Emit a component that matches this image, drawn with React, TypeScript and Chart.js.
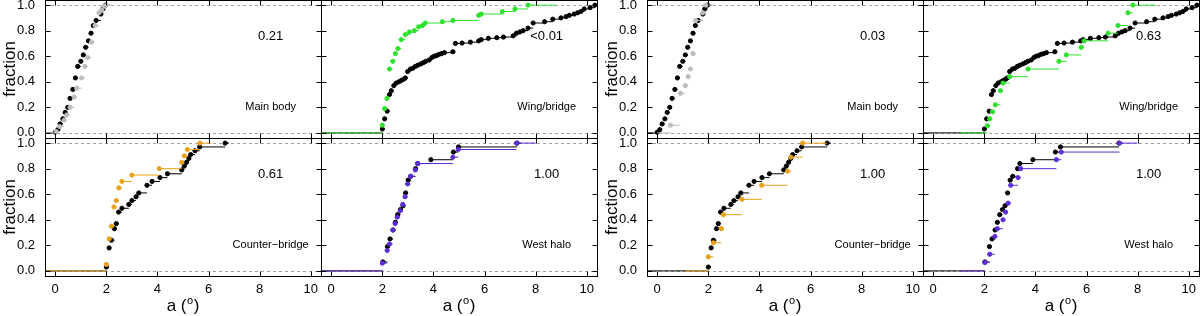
import React, { useEffect, useRef } from "react";
import { Chart, registerables } from "chart.js";

Chart.register(...registerables);

const FONT = "'Liberation Sans', Arial, Helvetica, sans-serif";

const xTickValues = [0, 2, 4, 6, 8, 10];
const yTickValues = [0, 0.2, 0.4, 0.6, 0.8, 1.0];

const regionNames = ["Main body", "Wing/bridge", "Counter\u2212bridge", "West halo"];
const pValuesLeft = ["0.21", "<0.01", "0.61", "1.00"];
const pValuesRight = ["0.03", "0.63", "1.00", "1.00"];

// ---- Main body ----
const mainBodyX = [0.0, 0.1, 0.19, 0.3, 0.39, 0.49, 0.58, 0.69, 0.79, 0.88, 1.0, 1.1, 1.19, 1.3, 1.4, 1.49, 1.6, 1.79, 1.86, 1.97];
const mainBodyY = [0.005, 0.025, 0.07, 0.11, 0.16, 0.2, 0.27, 0.34, 0.43, 0.52, 0.56, 0.61, 0.67, 0.72, 0.78, 0.84, 0.88, 0.93, 0.97, 1.0];
const mainBodyGrayLeftX = [0.04, 0.17, 0.35, 0.45, 0.58, 0.74, 0.84, 1.03, 1.16, 1.27, 1.42, 1.56, 1.71, 1.81, 1.91, 2.0];
const mainBodyGrayLeftY = [0.01, 0.05, 0.1, 0.14, 0.2, 0.28, 0.35, 0.43, 0.52, 0.59, 0.71, 0.84, 0.94, 0.96, 0.99, 1.0];
const mainBodyGrayRightX = [0.52, 0.91, 1.1, 1.21, 1.3, 1.4, 1.5, 1.78, 1.9];
const mainBodyGrayRightY = [0.06, 0.31, 0.37, 0.44, 0.5, 0.62, 0.88, 0.94, 1.0];

// ---- Wing/bridge ----
const wingX = [2.0, 2.09, 2.19, 2.28, 2.35, 2.45, 2.54, 2.65, 2.74, 2.83, 2.9, 2.99, 3.1, 3.19, 3.29, 3.39, 3.51, 3.61, 3.7, 3.83, 3.94, 4.03, 4.12, 4.22, 4.32, 4.43, 4.76, 4.86, 5.12, 5.45, 5.77, 5.87, 6.15, 6.48, 6.74, 7.12, 7.25, 7.38, 7.51, 7.7, 7.9, 8.35, 8.67, 8.99, 9.19, 9.32, 9.51, 9.64, 9.77, 9.9, 10.13, 10.32];
const wingY = [0.03, 0.11, 0.17, 0.3, 0.33, 0.37, 0.39, 0.4, 0.41, 0.42, 0.43, 0.48, 0.5, 0.505, 0.52, 0.53, 0.54, 0.55, 0.56, 0.57, 0.59, 0.6, 0.605, 0.615, 0.62, 0.628, 0.635, 0.7, 0.703, 0.71, 0.72, 0.73, 0.74, 0.745, 0.75, 0.76, 0.78, 0.79, 0.8, 0.82, 0.86, 0.87, 0.89, 0.9, 0.91, 0.92, 0.93, 0.94, 0.95, 0.97, 0.98, 1.0];
const wingGreenLeftX = [2.0, 2.09, 2.18, 2.28, 2.41, 2.51, 2.61, 2.74, 2.9, 3.06, 3.25, 3.42, 3.57, 3.68, 4.35, 4.76, 5.77, 5.87, 6.7, 7.19, 7.7];
const wingGreenLeftY = [0.06, 0.19, 0.27, 0.5, 0.56, 0.62, 0.66, 0.73, 0.77, 0.79, 0.8, 0.83, 0.84, 0.86, 0.87, 0.88, 0.92, 0.93, 0.95, 0.97, 1.0];
const wingGreenRightX = [2.12, 2.21, 2.32, 2.43, 2.63, 2.73, 2.99, 3.71, 4.92, 5.21, 5.79, 5.9, 6.84, 7.23, 7.62, 7.81];
const wingGreenRightY = [0.055, 0.11, 0.165, 0.22, 0.33, 0.39, 0.44, 0.5, 0.56, 0.61, 0.67, 0.72, 0.78, 0.84, 0.94, 1.0];

// ---- Counter-bridge ----
const counterX = [2.0, 2.11, 2.2, 2.32, 2.39, 2.48, 2.61, 2.88, 3.0, 3.16, 3.27, 3.59, 3.79, 4.1, 4.39, 4.95, 5.05, 5.14, 5.23, 5.3, 5.47, 5.65, 6.65];
const counterY = [0.03, 0.18, 0.24, 0.33, 0.37, 0.46, 0.49, 0.52, 0.55, 0.58, 0.61, 0.67, 0.7, 0.73, 0.76, 0.79, 0.82, 0.85, 0.88, 0.91, 0.94, 0.97, 1.0];
const counterOrangeLeftX = [2.0, 2.11, 2.2, 2.3, 2.39, 2.49, 2.61, 3.0, 4.07, 4.95, 5.05, 5.17, 5.66];
const counterOrangeLeftY = [0.05, 0.25, 0.35, 0.5, 0.55, 0.65, 0.7, 0.75, 0.8, 0.85, 0.9, 0.95, 1.0];
const counterOrangeRightX = [2.0, 2.2, 2.51, 2.59, 3.31, 4.09, 5.1, 5.23, 5.69];
const counterOrangeRightY = [0.11, 0.22, 0.33, 0.44, 0.56, 0.67, 0.78, 0.89, 1.0];

// ---- West halo ----
const haloX = [2.02, 2.2, 2.3, 2.42, 2.51, 2.6, 2.71, 2.81, 2.91, 3.01, 3.11, 3.3, 3.39, 3.9, 4.78, 4.98, 7.27];
const haloY = [0.07, 0.19, 0.25, 0.32, 0.38, 0.44, 0.48, 0.51, 0.61, 0.71, 0.74, 0.8, 0.84, 0.87, 0.93, 0.97, 1.0];
const haloBlueLeftX = [2.0, 2.19, 2.28, 2.41, 2.5, 2.58, 2.7, 2.8, 2.89, 2.99, 3.1, 3.29, 3.38, 4.76, 4.97, 7.25];
const haloBlueLeftY = [0.06, 0.16, 0.21, 0.32, 0.37, 0.42, 0.47, 0.52, 0.58, 0.68, 0.74, 0.79, 0.84, 0.89, 0.95, 1.0];
const haloBlueRightX = [2.02, 2.21, 2.41, 2.51, 2.73, 2.83, 2.93, 3.03, 3.32, 3.42, 4.82, 5.01, 7.29];
const haloBlueRightY = [0.065, 0.13, 0.27, 0.33, 0.4, 0.46, 0.53, 0.67, 0.73, 0.8, 0.87, 0.93, 1.0];

const COL = {
  black: "#000000",
  gray: "#bdbdbd",
  green: "#2fe02f",
  orange: "#e6a21a",
  blue: "#5c2ed6",
  dash: "#a0a0a0",
};

const X_MIN = -0.4;
const X_MAX = 10.4;
const Y_MIN = -0.04;
const Y_MAX = 1.04;

type Series = { x: number[]; y: number[]; color: string; start: number; tail: number };
type PanelSpec = {
  left: number;
  top: number;
  showY: boolean;
  showX: boolean;
  pval: string;
  label: string;
  series: Series[];
};

const blackSets = [
  { x: mainBodyX, y: mainBodyY },
  { x: wingX, y: wingY },
  { x: counterX, y: counterY },
  { x: haloX, y: haloY },
];

const leftColored: Series[] = [
  { x: mainBodyGrayLeftX, y: mainBodyGrayLeftY, color: COL.gray, start: X_MIN, tail: 0.2 },
  { x: wingGreenLeftX, y: wingGreenLeftY, color: COL.green, start: X_MIN, tail: 1.1 },
  { x: counterOrangeLeftX, y: counterOrangeLeftY, color: COL.orange, start: X_MIN, tail: 0.45 },
  { x: haloBlueLeftX, y: haloBlueLeftY, color: COL.blue, start: X_MIN, tail: 0.75 },
];
const rightColored: Series[] = [
  { x: mainBodyGrayRightX, y: mainBodyGrayRightY, color: COL.gray, start: 0.0, tail: 0.3 },
  { x: wingGreenRightX, y: wingGreenRightY, color: COL.green, start: 1.05, tail: 0.9 },
  { x: counterOrangeRightX, y: counterOrangeRightY, color: COL.orange, start: 1.1, tail: 0.95 },
  { x: haloBlueRightX, y: haloBlueRightY, color: COL.blue, start: 1.05, tail: 0.7 },
];

const PANEL_W = 276;
const PANEL_H = 138;
const Y_AXIS_W = 45;
const X_AXIS_H = 40;
const W = 1200;
const H = 316;

function buildPanels(): PanelSpec[] {
  const out: PanelSpec[] = [];
  const groups = [
    { offset: 0, pvals: pValuesLeft, colored: leftColored },
    { offset: 602, pvals: pValuesRight, colored: rightColored },
  ];
  groups.forEach((g) => {
    for (let k = 0; k < 4; k++) {
      const row = Math.floor(k / 2);
      const col = k % 2;
      out.push({
        left: 45 + g.offset + col * PANEL_W,
        top: row * PANEL_H,
        showY: col === 0,
        showX: row === 1,
        pval: g.pvals[k],
        label: regionNames[k],
        series: [
          g.colored[k],
          { x: blackSets[k].x, y: blackSets[k].y, color: COL.black, start: X_MIN, tail: 0.15 },
        ],
      });
    }
  });
  return out;
}

function stepData(s: Series) {
  const out: { x: number; y: number | null }[] = [
    { x: s.start, y: 0 },
    { x: s.x[0], y: 0 },
    { x: s.x[0], y: null },
  ];
  for (let i = 0; i < s.x.length; i++) {
    const end = i < s.x.length - 1 ? s.x[i + 1] : s.x[i] + s.tail;
    out.push({ x: s.x[i], y: s.y[i] }, { x: end, y: s.y[i] }, { x: end, y: null });
  }
  return out;
}

function zeroPad(s: any) {
  s.paddingTop = 0;
  s.paddingBottom = 0;
  s.paddingLeft = 0;
  s.paddingRight = 0;
}

function makeConfig(spec: PanelSpec): any {
  const datasets: any[] = [];
  spec.series.forEach((s) => {
    datasets.push({
      data: s.x.map((v, i) => ({ x: v, y: s.y[i] })),
      showLine: false,
      pointRadius: 2.1,
      pointBorderWidth: 1,
      pointBackgroundColor: s.color,
      pointBorderColor: s.color,
      backgroundColor: s.color,
      borderColor: s.color,
    });
    datasets.push({
      data: stepData(s),
      showLine: true,
      spanGaps: false,
      pointRadius: 0,
      borderWidth: 1,
      borderColor: s.color,
      backgroundColor: s.color,
    });
  });

  const decor = {
    id: "decor",
    beforeDatasetsDraw(chart: any) {
      const { ctx, chartArea: a, scales } = chart;
      const y = scales.y;
      ctx.save();
      ctx.strokeStyle = COL.dash;
      ctx.lineWidth = 1;
      ctx.setLineDash([3, 3]);
      [0, 1].forEach((v) => {
        const py = Math.round(y.getPixelForValue(v)) + 0.5;
        ctx.beginPath();
        ctx.moveTo(a.left, py);
        ctx.lineTo(a.right, py);
        ctx.stroke();
      });
      ctx.restore();
    },
    afterDraw(chart: any) {
      const { ctx, chartArea: a, scales } = chart;
      const x = scales.x;
      const y = scales.y;
      ctx.save();
      ctx.strokeStyle = "#000";
      ctx.lineWidth = 1;
      ctx.setLineDash([]);
      const L = Math.round(a.left) + 0.5;
      const R = Math.round(a.right) + 0.5;
      const T = Math.round(a.top) + 0.5;
      const B = Math.round(a.bottom) + 0.5;
      ctx.strokeRect(L, T, R - L, B - T);
      const tl = 5;
      ctx.beginPath();
      xTickValues.forEach((v) => {
        const px = Math.round(x.getPixelForValue(v)) + 0.5;
        ctx.moveTo(px, T);
        ctx.lineTo(px, T + tl);
        ctx.moveTo(px, B);
        ctx.lineTo(px, B - tl);
      });
      yTickValues.forEach((v) => {
        const py = Math.round(y.getPixelForValue(v)) + 0.5;
        ctx.moveTo(L, py);
        ctx.lineTo(L + tl, py);
        ctx.moveTo(R, py);
        ctx.lineTo(R - tl, py);
      });
      ctx.stroke();

      ctx.fillStyle = "#000";
      ctx.textAlign = "center";
      ctx.textBaseline = "middle";
      ctx.font = `13px ${FONT}`;
      ctx.fillText(spec.pval, x.getPixelForValue(8.43), y.getPixelForValue(0.755));
      ctx.font = `11px ${FONT}`;
      ctx.fillText(spec.label, x.getPixelForValue(8.43), y.getPixelForValue(0.2));

      if (spec.showX) {
        const cx = (a.left + a.right) / 2;
        const base = 311;
        ctx.textBaseline = "alphabetic";
        ctx.textAlign = "left";
        ctx.font = `17px ${FONT}`;
        const p1 = "a (";
        const p3 = ")";
        const w1 = ctx.measureText(p1).width;
        const w3 = ctx.measureText(p3).width;
        ctx.font = `11px ${FONT}`;
        const w2 = ctx.measureText("o").width;
        const sx = cx - (w1 + w2 + w3 + 1) / 2;
        ctx.font = `17px ${FONT}`;
        ctx.fillText(p1, sx, base);
        ctx.font = `11px ${FONT}`;
        ctx.fillText("o", sx + w1 + 0.5, base - 7);
        ctx.font = `17px ${FONT}`;
        ctx.fillText(p3, sx + w1 + w2 + 1, base);
      }
      ctx.restore();
    },
  };

  return {
    type: "scatter",
    data: { datasets },
    plugins: [decor],
    options: {
      animation: false,
      responsive: false,
      devicePixelRatio: 1,
      events: [],
      layout: {
        autoPadding: false,
        padding: {
          left: spec.left - (spec.showY ? Y_AXIS_W : 0),
          right: W - (spec.left + PANEL_W),
          top: spec.top,
          bottom: H - (spec.top + PANEL_H) - (spec.showX ? X_AXIS_H : 0),
        },
      },
      plugins: { legend: { display: false }, tooltip: { enabled: false }, title: { display: false } },
      scales: {
        x: {
          type: "linear",
          min: X_MIN,
          max: X_MAX,
          display: spec.showX,
          grid: { display: false, drawTicks: false },
          border: { display: false },
          afterBuildTicks: (s: any) => {
            s.ticks = xTickValues.map((v) => ({ value: v }));
          },
          afterFit: (s: any) => {
            s.height = spec.showX ? X_AXIS_H : 0;
            zeroPad(s);
          },
          ticks: {
            padding: 6,
            maxRotation: 0,
            autoSkip: false,
            color: "#000",
            font: { family: FONT, size: 13 },
            callback: (v: any) => String(v),
          },
        },
        y: {
          type: "linear",
          min: Y_MIN,
          max: Y_MAX,
          display: spec.showY,
          grid: { display: false, drawTicks: false },
          border: { display: false },
          afterBuildTicks: (s: any) => {
            s.ticks = yTickValues.map((v) => ({ value: v }));
          },
          afterFit: (s: any) => {
            s.width = spec.showY ? Y_AXIS_W : 0;
            zeroPad(s);
          },
          title: {
            display: spec.showY,
            text: "fraction",
            color: "#000",
            padding: 0,
            font: { family: FONT, size: 17 },
          },
          ticks: {
            padding: 10,
            autoSkip: false,
            color: "#000",
            font: { family: FONT, size: 13 },
            callback: (v: any) => Number(v).toFixed(1),
          },
        },
      },
    },
  };
}

function Panel({ spec }: { spec: PanelSpec }) {
  const ref = useRef<HTMLCanvasElement>(null);
  useEffect(() => {
    if (!ref.current) return;
    const chart = new Chart(ref.current, makeConfig(spec));
    return () => chart.destroy();
  }, [spec]);
  return (
    <canvas
      ref={ref}
      width={W}
      height={H}
      style={{ position: "absolute", left: 0, top: 0, width: W, height: H }}
    />
  );
}

const PANELS = buildPanels();

export default function App() {
  return (
    <div style={{ position: "fixed", left: 0, top: 0, width: W, height: H, background: "#fff", overflow: "hidden" }}>
      {PANELS.map((p, i) => (
        <Panel key={i} spec={p} />
      ))}
    </div>
  );
}
